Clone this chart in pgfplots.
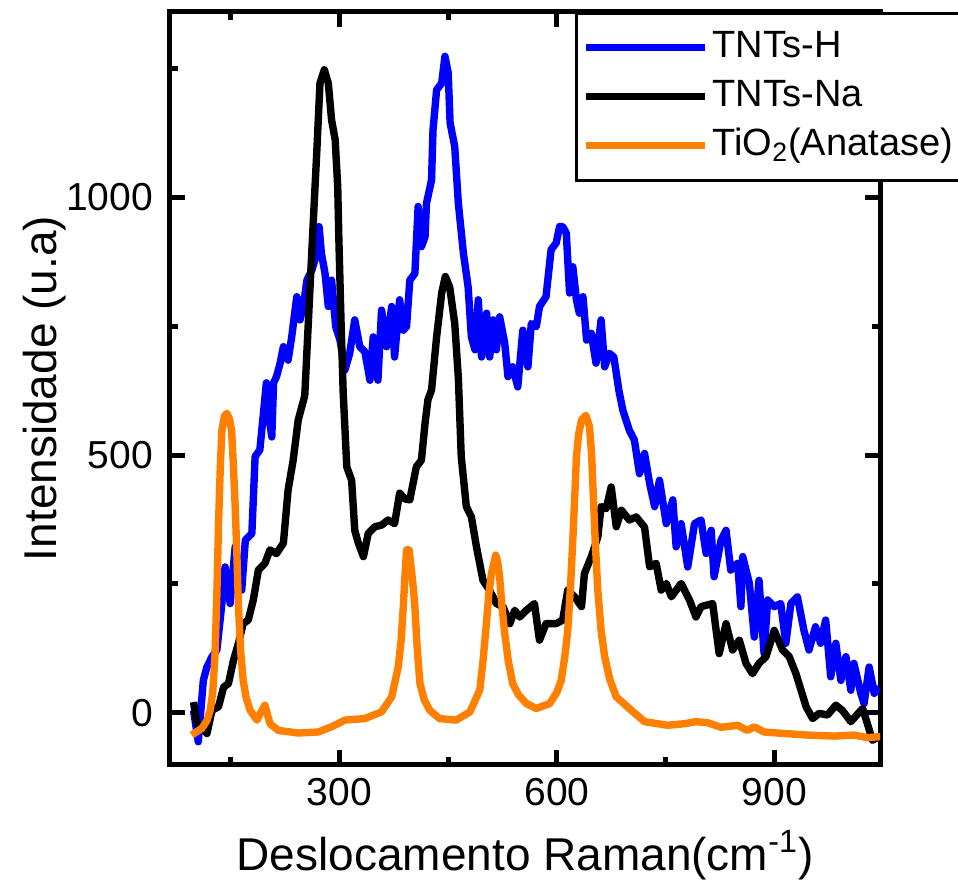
\documentclass[border=0pt]{standalone}
\usepackage{fontspec}
\setmainfont{Liberation Sans}
\usepackage{pgfplots}
\pgfplotsset{compat=1.18}
\definecolor{tblue}{RGB}{0,0,255}
\definecolor{torange}{RGB}{255,128,0}
\begin{document}
\begin{tikzpicture}
\begin{axis}[
  scale only axis,
  width=355pt, height=376.5pt,
  xmin=66, xmax=1046, ymin=-101, ymax=1359,
  xtick={300,600,900}, minor xtick={150,450,750},
  ytick={0,500,1000}, minor ytick={250,750,1250},
  tick align=inside,
  major tick length=7.5pt, minor tick length=4pt,
  tick style={line width=2.5pt, black},
  axis line style={line width=2.5pt},
  tick label style={font=\fontsize{19.5}{19.5}\selectfont},
  /pgf/number format/assume math mode=true,
  /pgf/number format/1000 sep={},
  xticklabel style={yshift=-3pt},
  yticklabel style={xshift=-5pt},
  xlabel={Deslocamento Raman(cm\textsuperscript{-1})},
  ylabel={Intensidade (u.a)},
  label style={font=\fontsize{23}{23}\selectfont},
  xlabel style={at={([yshift=-53pt]rel axis cs:0.5,0)}, anchor=base},
  ylabel style={at={([xshift=-56.5pt]rel axis cs:0,0.5)}, anchor=base},
  legend style={at={(rel axis cs:0.5704,1.0)}, anchor=north west, draw=black, line width=1.3pt,
    font=\fontsize{19}{19}\selectfont, inner xsep=3pt, inner ysep=6pt, row sep=2pt,
    nodes={inner sep=2pt, text height=14pt, text depth=4.5pt}, fill=white},
  legend cell align=left,
  legend image code/.code={\path (0pt,0pt) -- (59.5pt,0pt);
    \draw[#1, line cap=round] (12pt,0pt) -- (54.5pt,0pt);},
  every axis plot/.append style={line width=3.7pt, line join=round},
]
\addplot[tblue] coordinates {
(98.5,5)(105,-56)(112,63)(117,89)(124,109)(130.7,122)(137.6,212)(142,283)(149,212)(156,322)
(165,238)(170,335)(179,348)(183.5,497)(190,510)(195,581)(199,640)(202,620)(204,560)(206.5,535)
(209,640)(213,652)(218,678)(222.5,710)(229,684)(234,729)(241,807)(245.5,762)(250,788)(255,839)
(262,859)(268.5,891)(271.7,943)(275,891)(280,852)(284.5,788)(289,839)(294.7,749)(300.6,723)
(307.5,665)(314,697)(321,762)(328,710)(335,700)(342,645)(346.5,729)(353,645)(358,781)(365,710)
(372,788)(376,690)(383,801)(388,742)(392.5,749)(397,839)(404,852)(408.5,982)(413,904)(418,923)
(420,988)(427,1033)(429,1130)(434,1208)(441,1221)(445.5,1273)(450,1241)(452.6,1144)(459,1098)
(464,988)(471,891)(477.5,826)(482,729)(487,704)(491.5,801)(496,690)(503,775)(507.3,690)(512,762)
(516.5,704)(521,768)(528,717)(532.5,652)(539,671)(546,632)(553,742)(560,671)(564.7,755)(571.6,749)
(576,788)(585,807)(592,898)(599,911)(603.8,943)(608,943)(613,930)(617.5,814)(622,865)(627,801)
(631,775)(636,807)(641,723)(647.5,736)(654,678)(661,762)(666,671)(672.5,697)(678.6,690)(685.5,626)
(691,587)(700,548)(707,529)(714,464)(721,503)(728,445)(735,400)(741.6,451)(751,367)(760,413)
(764.6,322)(771.5,367)(780.6,283)(790,367)(799,374)(806,309)(813,354)(817,264)(826.6,335)(833.5,354)
(840,277)(849.5,290)(854,206)(856.5,303)(865.7,251)(872.5,147)(879,257)(886,115)(891,219)(900,206)
(909,212)(916,135)(923,212)(932,225)(941,160)(948,122)(957,167)(964,135)(971,180)(978,70)
(985,135)(992,63)(999,109)(1005.7,44)(1010,96)(1019.5,38)(1024,18)(1031,89)(1038,38)(1045,50)
};
\addlegendentry{TNTs-H}
\addplot[black] coordinates {
(98.5,21)(103,-21)(110,-27)(117,-40)(124,5)(133,12)(140,50)(146.7,57)(153.6,102)(160.5,135)
(167,173)(174,180)(181,219)(188,277)(197,290)(204,316)(213,309)(222.5,329)(229,432)(236,490)
(243,568)(252,615)(261.6,891)(268.5,1085)(273,1221)(279,1247)(284.5,1221)(289,1150)(294,1111)
(297.5,1020)(299,923)(302,762)(305,623)(310,477)(316.7,451)(321,354)(326,329)(333,303)(339.6,348)
(349,361)(358,364)(367,374)(376,367)(383,426)(390,415)(397,413)(406,477)(413,490)(418,561)
(422,607)(427,626)(434,729)(441,814)(446,846)(452,826)(459,755)(464,650)(468,497)(475,400)
(482,380)(489,322)(498,257)(507,238)(516.5,212)(525.6,206)(535,173)(541.8,199)(548.7,186)(558,199)
(569,212)(576,141)(585,173)(599,173)(608,180)(615,238)(624.5,225)(634,206)(638,270)(647.5,303)
(656.5,341)(661,400)(668,396)(675,438)(682,361)(689,393)(700,374)(709.5,380)(721,360)(728,283)
(737,290)(744,238)(751,251)(758,225)(771.5,251)(783,219)(792,186)(799,206)(815,212)(824,115)
(833.5,173)(842.5,122)(851.8,141)(861,96)(870,76)(879,96)(888.6,109)(900,160)(911.5,122)(920.7,109)
(930,76)(937,44)(944,12)(953,-11)(962,-1)(973.6,-4)(985,15)(994,5)(1005.7,-17)(1022,8.5)
(1028.6,-21)(1035.5,-53)(1044.7,-46)
};
\addlegendentry{TNTs-Na}
\addplot[torange] coordinates {
(96,-43)(110,-30)(117,-15)(121.5,5)(125,40)(128,109)(130.5,220)(133,367)(135.5,480)(137.6,548)
(141,575)(144.5,581)(148,570)(151,548)(153.5,480)(156,400)(158.5,300)(160.5,206)(163.5,120)
(167,63)(171,30)(176.6,5)(186,-14)(193,5)(197,15)(204,-21)(215.6,-34)(243,-39)(270.7,-37)(289,-27)
(307.5,-14)(335,-11)(358,2)(372,31)(381,89)(385,140)(388,206)(390.5,270)(392.5,316)(396,316)
(399,280)(402,240)(404,206)(407,130)(411,57)(417,25)
(424.6,5)(438,-11)(461,-14)(480,2)(493.5,44)(498,100)(502.7,173)(506,230)(509.7,270)(515.6,306)
(518,295)(521,264)(524,210)(528,154)(533,100)
(539,57)(547,35)(558,18)(571.6,8.5)(590,18)(600,40)(606,63)(611,110)(615,160)(619,250)(622,335)
(625,430)(627,497)(630,540)(634,568)(640,577)(645,555)(648,500)(650,432)(653,330)(656.5,238)
(661,160)(666,109)(673,65)(682,31)(700,8.5)(721,-17)(753,-24)(776,-21)(792,-17)
(808,-19)(826.6,-28)(849.5,-24)(863,-34)(872.5,-27)(886,-37)(914,-40)(946,-43)(983,-45)(1010,-43)
(1028.6,-48)(1047,-46)
};
\addlegendentry{TiO\textsubscript{2}(Anatase)}
\coordinate (bl) at (rel axis cs:0,0);
\coordinate (tr) at (rel axis cs:1,1);
\end{axis}
\pgfresetboundingbox
\path ([xshift=-85pt,yshift=-57.5pt]bl) rectangle ([xshift=39pt,yshift=6pt]tr);
\end{tikzpicture}
\end{document}
